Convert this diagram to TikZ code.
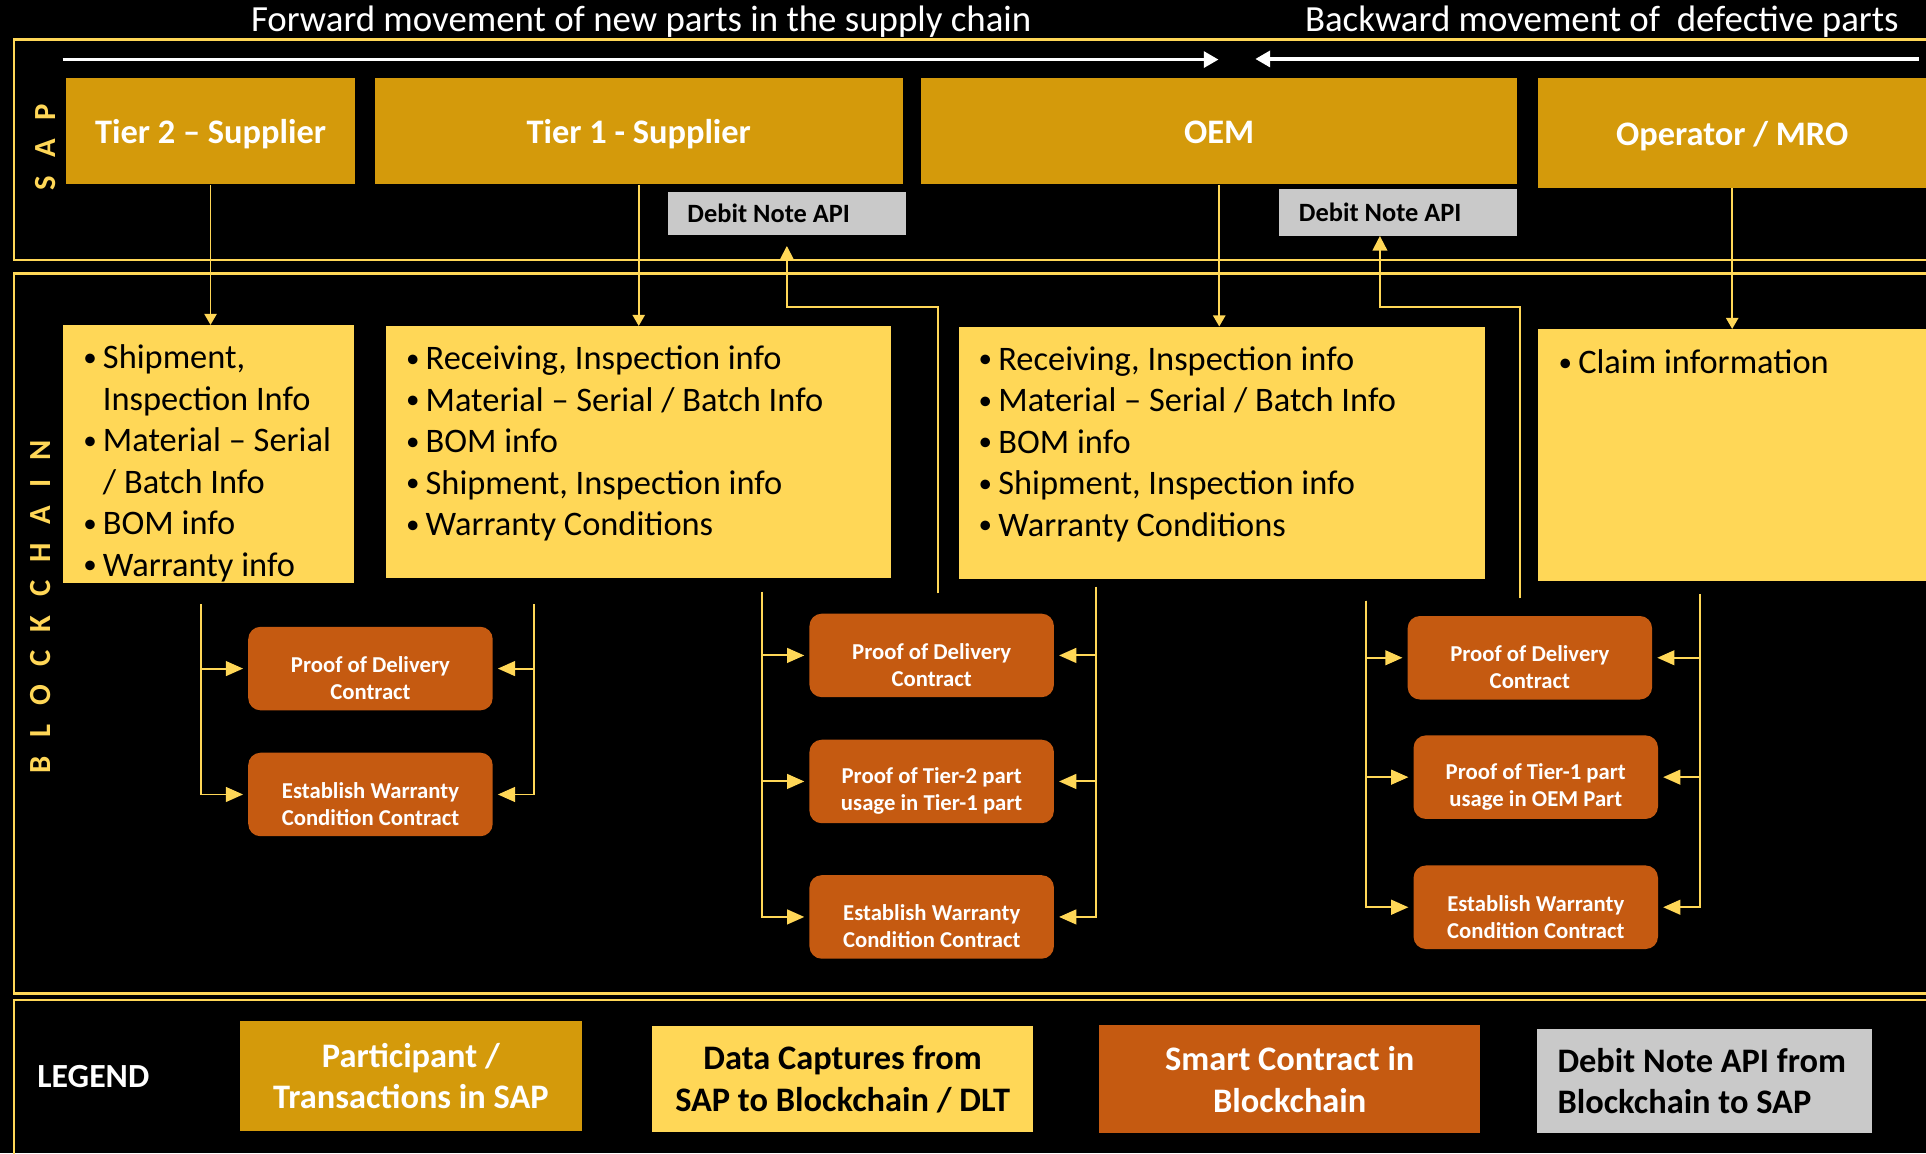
\documentclass[tikz,border=0pt]{standalone}
\usepackage{fontspec}
\setmainfont{Carlito}
\usetikzlibrary{arrows.meta,positioning}
\definecolor{gold}{HTML}{D49A0B}
\definecolor{sand}{HTML}{FFD757}
\definecolor{rust}{HTML}{C55A11}
\definecolor{ash}{HTML}{C9C9C9}
\newcommand{\pw}{1568}
\newcommand{\ph}{939}
\newcommand{\bul}{\makebox[16pt][l]{\raisebox{2pt}{\fontsize{22}{22}\selectfont •}}}
\newcommand{\cont}{\hspace*{16pt}}
\newcommand{\up}{\rule{0pt}{28.5pt}}

\begin{document}
\begin{tikzpicture}[x=1pt, y=-1pt,
  frame/.style={draw=sand, line width=2pt},
  title/.style={text=white, inner sep=0pt, anchor=base, font=\fontsize{30}{36}\selectfont},
  side/.style={text=sand, inner sep=0pt, rotate=90, font={\fontsize{25}{30}\selectfont\bfseries\spaceskip=15pt\relax}},
  party/.style={fill=gold, text=white, inner sep=0pt, align=center, font=\fontsize{28}{34}\selectfont\bfseries},
  head/.style={party, text height=19.8pt, text depth=0pt, minimum height=86.6pt},
  capture/.style={fill=sand, inner sep=0pt},
  bullets/.style={text=black, inner sep=0pt, align=left, font=\fontsize{28}{33.8}\selectfont},
  contract/.style={fill=rust, rounded corners=10pt, text=white, inner sep=0pt, align=center, minimum width=199pt, minimum height=68pt, font=\fontsize{18.5}{22}\selectfont\bfseries},
  debit/.style={fill=ash, text=black, inner xsep=16pt, inner ysep=0pt, align=flush left, font=\fontsize{21.5}{26}\selectfont\bfseries},
  move/.style={draw=white, line width=2.7pt, -{Triangle[length=12pt,width=13pt]}},
  feed/.style={draw=sand, line width=1.4pt, -{Triangle[length=9pt,width=10pt]}},
  link/.style={draw=sand, line width=1.6pt, -{Triangle[length=14pt,width=12pt]}, shorten >=4pt},
  back/.style={draw=sand, line width=1.6pt, -{Triangle[length=12pt,width=12pt]}}]
  \useasboundingbox (0,0) rectangle (\pw,\ph);
  \fill[black] (0,0) rectangle (\pw,\ph);
  \clip (0,0) rectangle (\pw,\ph);

  \draw[frame] (11.5,32) rectangle (1600,211.7);
  \draw[frame] (11.5,222.6) rectangle (1600,808.7);
  \draw[frame] (11.5,814) rectangle (1600,980);

  \node[title] (fwdtxt) at (522,26) {Forward movement of new parts in the supply chain};
  \node[title] (bwdtxt) at (1304,26) {Backward movement of\ \ defective parts};
  \coordinate (fwdA) at (51,48.5);
  \coordinate (fwdB) at (992,48.5);
  \coordinate (bwdA) at (1562,48);
  \coordinate (bwdB) at (1022,48);
  \draw[move] (fwdA) -- (fwdB);
  \draw[move] (bwdA) -- (bwdB);

  \node[side] (sap) at (37,120) {S A P};
  \node[side] (chain) at (33,494) {B L O C K C H A I N};

  \node[head, minimum width=235.7pt] (tier2) at (171.4,106.8) {Tier 2 – Supplier};
  \node[head, minimum width=429.5pt] (tier1) at (520,106.8) {Tier 1 - Supplier};
  \node[head, minimum width=485.3pt] (oem) at (992.6,106.8) {OEM};
  \node[head, minimum width=315.6pt, minimum height=89.3pt] (mro) at (1410.2,108.2) {Operator / MRO};

  \node[debit, text width=161.8pt, text height=15.2pt, text depth=0pt, minimum height=34.7pt] (db1) at (640.6,173.7) {Debit Note API};
  \node[debit, text width=161.8pt, text height=15.2pt, text depth=0pt, minimum height=38pt] (db2) at (1138.4,172.9) {Debit Note API};

  \node[capture, minimum width=236.7pt, minimum height=209.8pt] (capT2) at (169.7,369.6) {};
  \node[capture, minimum width=411.5pt, minimum height=205.3pt] (capT1) at (519.8,368.2) {};
  \node[capture, minimum width=428.2pt, minimum height=205pt] (capOEM) at (994.9,368.5) {};
  \node[capture, minimum width=315.6pt, minimum height=204.8pt] (capMRO) at (1410.2,370.4) {};

  \node[bullets, below right=16pt and 16.5pt of capT2.north west] (txtT2) {\bul Shipment,\\\cont Inspection Info\\\bul Material – Serial\\\cont / Batch Info\\\bul BOM info\\\bul Warranty info};
  \node[bullets, below right=16pt and 16.5pt of capT1.north west] (txtT1) {\bul Receiving, Inspection info\\\bul Material – Serial / Batch Info\\\bul BOM info\\\bul Shipment, Inspection info\\\bul Warranty Conditions};
  \node[bullets, below right=16pt and 16pt of capOEM.north west] (txtOEM) {\bul Receiving, Inspection info\\\bul Material – Serial / Batch Info\\\bul BOM info\\\bul Shipment, Inspection info\\\bul Warranty Conditions};
  \node[bullets, below right=17pt and 16.5pt of capMRO.north west] (txtMRO) {\bul Claim information};

  \draw[feed] (tier2.south) -- (tier2.south |- capT2.north);
  \draw[feed] (tier1.south) -- (tier1.south |- capT1.north);
  \draw[feed] (oem.south) -- (oem.south |- capOEM.north);
  \draw[feed] (mro.south) -- (mro.south |- capMRO.north);

  \node[contract] (t2deliv) at (301.6,544.3) {\up Proof of Delivery\\Contract};
  \node[contract] (t2warr) at (301.6,646.8) {\up Establish Warranty\\Condition Contract};
  \node[contract] (t1deliv) at (758.5,533.6) {\up Proof of Delivery\\Contract};
  \node[contract] (t1usage) at (758.5,636.2) {\up Proof of Tier-2 part\\usage in Tier-1 part};
  \node[contract] (t1warr) at (758.5,746.5) {\up Establish Warranty\\Condition Contract};
  \node[contract] (oemdeliv) at (1245.5,535.5) {\up Proof of Delivery\\Contract};
  \node[contract] (oemusage) at (1250.3,632.7) {\up Proof of Tier-1 part\\usage in OEM Part};
  \node[contract] (oemwarr) at (1250.3,738.6) {\up Establish Warranty\\Condition Contract};

  \coordinate (l2) at (163.3,491.9);
  \coordinate (r2) at (434.4,491.9);
  \draw[link] (l2) |- (t2deliv.west);
  \draw[link] (l2) |- (t2warr.west);
  \draw[link] (r2) |- (t2deliv.east);
  \draw[link] (r2) |- (t2warr.east);

  \coordinate (l1) at (620.5,481.8);
  \coordinate (r1) at (892.6,477.7);
  \draw[link] (l1) |- (t1deliv.west);
  \draw[link] (l1) |- (t1usage.west);
  \draw[link] (l1) |- (t1warr.west);
  \draw[link] (r1) |- (t1deliv.east);
  \draw[link] (r1) |- (t1usage.east);
  \draw[link] (r1) |- (t1warr.east);

  \coordinate (l0) at (1112,489);
  \coordinate (r0) at (1384,483.7);
  \draw[link] (l0) |- (oemdeliv.west);
  \draw[link] (l0) |- (oemusage.west);
  \draw[link] (l0) |- (oemwarr.west);
  \draw[link] (r0) |- (oemdeliv.east);
  \draw[link] (r0) |- (oemusage.east);
  \draw[link] (r0) |- (oemwarr.east);

  \coordinate (d1) at (763.3,483);
  \coordinate (d0) at (1237.8,487.2);
  \draw[back, shorten >=9pt] (d1) -- ++(0,-233.3) -| (db1.south);
  \draw[back] (d0) -- ++(0,-237.5) -| ([xshift=-15pt]db2.south);

  \node[text=white, inner sep=0pt, anchor=base, font=\fontsize{27.5}{32}\selectfont\bfseries] (legend) at (76,885.5) {LEGEND};
  \node[party, minimum width=279pt, minimum height=89.2pt] (keyparty) at (334.5,876.1) {Participant /\\Transactions in SAP};
  \node[capture, text=black, align=center, minimum width=310pt, minimum height=86pt, font=\fontsize{28}{34}\selectfont\bfseries] (keycap) at (686,878.5) {Data Captures from\\SAP to Blockchain / DLT};
  \node[contract, sharp corners, minimum width=310pt, minimum height=87.8pt, font=\fontsize{28}{34}\selectfont\bfseries] (keysmart) at (1050,878.6) {Smart Contract in\\Blockchain};
  \node[debit, inner xsep=17pt, text width=239pt, minimum height=84.6pt, font=\fontsize{28}{34}\selectfont\bfseries] (keydebit) at (1387.5,880.2) {Debit Note API from\\Blockchain to SAP};
\end{tikzpicture}
\end{document}
